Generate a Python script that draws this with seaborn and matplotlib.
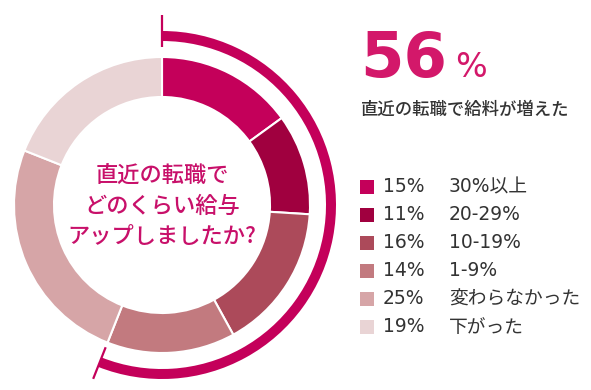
import numpy as np
import matplotlib
matplotlib.use("Agg")
import matplotlib.pyplot as plt
import seaborn as sns

# data
shares = [15, 11, 16, 14, 25, 19]
pct_labels = ["15%", "11%", "16%", "14%", "25%", "19%"]
categories = ["30%以上", "20-29%", "10-19%", "1-9%", "変わらなかった", "下がった"]
colors = ["#C4005A", "#A0003F", "#AC4A5A", "#C27A7F", "#D6A5A7", "#E9D4D5"]
increased = sum(shares[:4])  # 56
question = "直近の転職で\nどのくらい給与\nアップしましたか?"
headline_sub = "直近の転職で給料が増えた"

sns.set_theme(style="white")
plt.rcParams["font.family"] = ["Noto Sans CJK JP", "DejaVu Sans"]
latin_first = ["DejaVu Sans", "Noto Sans CJK JP"]

W, H = 591, 390
fig = plt.figure(figsize=(W / 100, H / 100), dpi=100)
ax = fig.add_axes([0, 0, 1, 1])

cx, cy = 162, 390 - 205
accent = "#C4005A"

# donut
ax.pie(shares, colors=colors, center=(cx, cy), radius=148, startangle=90,
       counterclock=False,
       wedgeprops=dict(width=40, edgecolor="white", linewidth=1.5))

# outer arc for the "increased" share
ax.pie([increased, 100 - increased], colors=[accent, "none"], center=(cx, cy),
       radius=174, startangle=90, counterclock=False,
       wedgeprops=dict(width=10, linewidth=0))

# small ticks at both ends of the arc
for frac, r0, r1 in [(0, 158, 190), (increased / 100, 153, 187)]:
    ang = np.deg2rad(90 - 360 * frac)
    ax.plot([cx + r0 * np.cos(ang), cx + r1 * np.cos(ang)],
            [cy + r0 * np.sin(ang), cy + r1 * np.sin(ang)],
            color=accent, lw=1.6, solid_capstyle="butt")

ax.text(cx, cy - 1, question, ha="center", va="center", color="#C8106A",
        fontsize=16, linespacing=1.4, fontweight="medium")

# headline
ax.text(360, 390 - 77, f"{increased}", ha="left", va="baseline", color="#D3186A",
        fontsize=45, fontweight="bold", family=latin_first)
ax.text(455, 390 - 77, "%", ha="left", va="baseline", color="#D3186A",
        fontsize=24, family=latin_first)
ax.text(361, 390 - 110, headline_sub, ha="left", va="center", color="#333333",
        fontsize=12.5, fontweight="medium")

# legend
for i, (p, c, col) in enumerate(zip(pct_labels, categories, colors)):
    y = 390 - (187 + 28 * i)
    ax.scatter([367], [y], marker="s", s=105, color=col, linewidths=0)
    ax.text(383, y, p, ha="left", va="center", color="#333333", fontsize=13.5,
            family=latin_first)
    ax.text(449, y, c, ha="left", va="center", color="#333333", fontsize=13.5,
            family=latin_first)

ax.set_xlim(0, W)
ax.set_ylim(0, H)
ax.set_aspect("equal")
ax.axis("off")

fig.savefig("out.png", dpi=100)
